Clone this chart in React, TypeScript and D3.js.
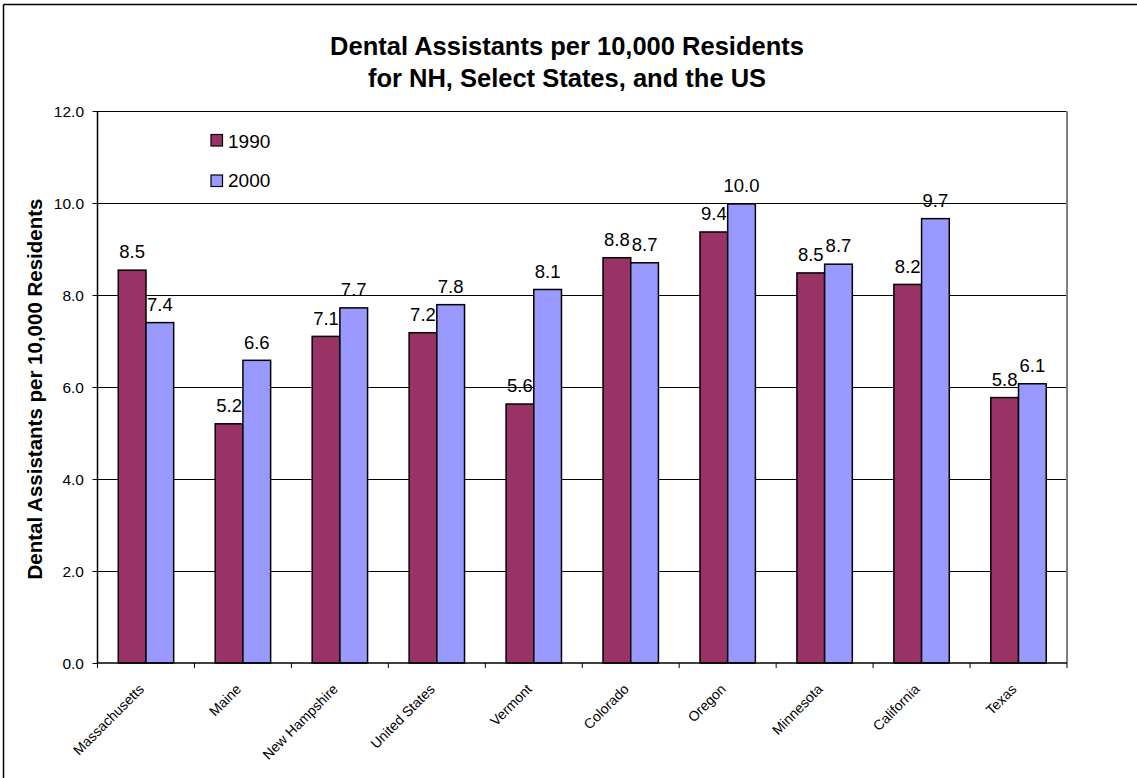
import React from "react";
import * as d3 from "d3";

const categories = ["Massachusetts", "Maine", "New Hampshire", "United States", "Vermont", "Colorado", "Oregon", "Minnesota", "California", "Texas"];
const values1990 = [8.54, 5.2, 7.1, 7.18, 5.63, 8.81, 9.37, 8.48, 8.23, 5.77];
const values2000 = [7.4, 6.58, 7.72, 7.79, 8.12, 8.7, 9.98, 8.67, 9.66, 6.07];
const seriesNames = ["1990", "2000"];
const seriesColors = ["#993366", "#9999FF"];
const yTicks = [0, 2, 4, 6, 8, 10, 12];

const W = 1137, H = 778;
const plot = { left: 97.5, right: 1067, top: 111, bottom: 663 };
const FONT = "'Liberation Sans', Arial, sans-serif";

export default function App() {
  const x = d3.scaleBand<string>().domain(categories).range([plot.left, plot.right]).paddingInner(0).paddingOuter(0);
  const y = d3.scaleLinear().domain([0, 12]).range([plot.bottom, plot.top]);
  const bw = x.bandwidth();
  const barW = bw / 3.5;
  const series = [values1990, values2000];

  return (
    <svg width={W} height={H} style={{ position: "absolute", left: 0, top: 0, background: "#fff" }} fontFamily={FONT}>
      <rect x={0} y={0} width={W} height={H} fill="#fff" />
      {/* outer frame */}
      <line x1={3.5} y1={4.5} x2={W} y2={4.5} stroke="#000" strokeWidth={1.5} />
      <line x1={3.5} y1={4.5} x2={3.5} y2={H} stroke="#000" strokeWidth={1.5} />
      {/* title */}
      <text x={567} y={55} textAnchor="middle" fontSize={25.5} fontWeight="bold">Dental Assistants per 10,000 Residents</text>
      <text x={567} y={87} textAnchor="middle" fontSize={25.5} fontWeight="bold">for NH, Select States, and the US</text>
      {/* gridlines */}
      {yTicks.map((t) => (
        <g key={t}>
          {t > 0 && <line x1={plot.left} x2={plot.right} y1={Math.round(y(t)) + 0.5} y2={Math.round(y(t)) + 0.5} stroke="#000" strokeWidth={1} />}
          <line x1={plot.left - 5} x2={plot.left} y1={Math.round(y(t)) + 0.5} y2={Math.round(y(t)) + 0.5} stroke="#000" strokeWidth={1} />
          <text x={84} y={y(t)} dy="0.36em" textAnchor="end" fontSize={15.5}>{t.toFixed(1)}</text>
        </g>
      ))}
      {/* right border */}
      <line x1={plot.right} x2={plot.right} y1={plot.top} y2={plot.bottom} stroke="#808080" strokeWidth={2} />
      {/* bars */}
      {categories.map((c, i) => (
        <g key={c}>
          {series.map((vals, s) => {
            const bx = (x(c) as number) + barW * 0.75 + s * barW;
            const by = y(vals[i]);
            return (
              <g key={s}>
                <rect x={bx} y={by} width={barW} height={plot.bottom - by} fill={seriesColors[s]} stroke="#000" strokeWidth={1.5} />
                <text x={bx + barW / 2} y={by - 11.7} textAnchor="middle" fontSize={18.5}>{vals[i].toFixed(1)}</text>
              </g>
            );
          })}
        </g>
      ))}
      {/* axes */}
      <line x1={plot.left} x2={plot.left} y1={plot.top} y2={plot.bottom} stroke="#000" strokeWidth={1.5} />
      <line x1={plot.left} x2={plot.right} y1={plot.bottom} y2={plot.bottom} stroke="#000" strokeWidth={1.5} />
      {categories.concat(["__end"]).map((c, i) => {
        const tx = plot.left + i * bw;
        return <line key={c} x1={tx} x2={tx} y1={plot.bottom} y2={plot.bottom + 5} stroke="#000" strokeWidth={1} />;
      })}
      {categories.map((c) => {
        const cx = (x(c) as number) + bw / 2;
        return (
          <text key={c} transform={`translate(${cx - 1},690) rotate(-45)`} textAnchor="end" fontSize={14}>{c}</text>
        );
      })}
      {/* y label */}
      <text transform={`translate(42,389) rotate(-90)`} textAnchor="middle" fontSize={20.5} fontWeight="bold">Dental Assistants per 10,000 Residents</text>
      {/* legend */}
      {seriesNames.map((n, s) => (
        <g key={n}>
          <rect x={211} y={134.5 + s * 40.5} width={11.5} height={11.5} fill={seriesColors[s]} stroke="#000" strokeWidth={1.2} />
          <text x={228} y={148.3 + s * 38.4} fontSize={19}>{n}</text>
        </g>
      ))}
    </svg>
  );
}
